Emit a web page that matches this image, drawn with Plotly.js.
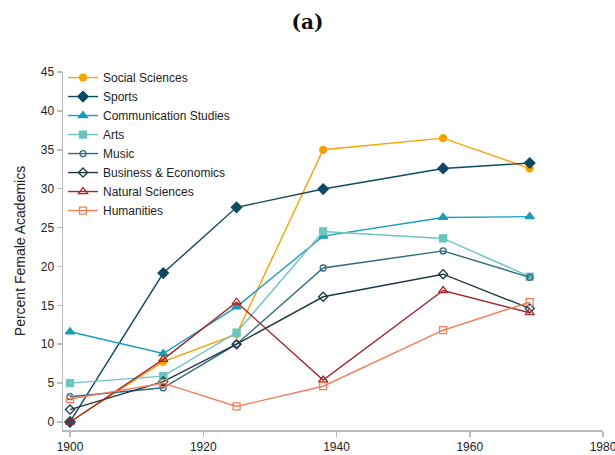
<!DOCTYPE html>
<html>
<head>
<meta charset="utf-8">
<script src="https://cdn.plot.ly/plotly-3.0.1.min.js"></script>
<style>html,body{margin:0;padding:0;background:#fff;}#chart{width:615px;height:455px;}</style>
</head>
<body>
<div id="chart"></div>
<script>
const years = [1900, 1914, 1925, 1938, 1956, 1969];
const seriesNames = ["Social Sciences", "Sports", "Communication Studies", "Arts", "Music", "Business & Economics", "Natural Sciences", "Humanities"];
const socialSciences = [0, 7.75, 11.3, 35.0, 36.5, 32.6];
const sports = [0, 19.15, 27.6, 29.95, 32.6, 33.3];
const communicationStudies = [11.6, 8.8, 14.8, 23.9, 26.3, 26.4];
const arts = [5.0, 5.9, 11.5, 24.5, 23.6, 18.7];
const music = [3.25, 4.4, 10.0, 19.8, 22.0, 18.6];
const businessEconomics = [1.6, 5.2, 10.0, 16.1, 19.0, 14.6];
const naturalSciences = [0, 8.05, 15.4, 5.4, 16.9, 14.05];
const humanities = [2.95, 5.0, 2.0, 4.6, 11.8, 15.4];
const yTicks = [0, 5, 10, 15, 20, 25, 30, 35, 40, 45];
const xTicks = [1900, 1920, 1940, 1960, 1980];

const values = [socialSciences, sports, communicationStudies, arts, music, businessEconomics, naturalSciences, humanities];
const colors = ["#f5a300", "#0c4a62", "#1b9cb8", "#6cc4bf", "#2e6a80", "#1d3a42", "#a3282e", "#f47d5b"];
const symbols = ["circle", "diamond", "triangle-up", "square", "circle-open", "diamond-open", "triangle-up-open", "square-open"];
const sizes = [7, 8, 8, 7, 6, 7, 8, 7];

const traces = seriesNames.map((name, i) => ({
  type: "scatter",
  mode: "lines+markers",
  name: name,
  x: years,
  y: values[i],
  line: {color: colors[i], width: 1.4},
  marker: {symbol: symbols[i], size: sizes[i], color: colors[i], line: {color: colors[i], width: 1.3}}
}));

const layout = {
  width: 615, height: 455,
  paper_bgcolor: "#fff", plot_bgcolor: "#fff",
  margin: {l: 63, r: 12, t: 72, b: 25},
  font: {family: "Liberation Sans", size: 12, color: "#222"},
  title: {text: "<b>(a)</b>", font: {family: "DejaVu Serif", size: 20, color: "#111"}, x: 0.5, xanchor: "center", y: 0.952, yanchor: "middle", yref: "container"},
  showlegend: true,
  legend: {x: 0.0, y: 1.025, xanchor: "left", yanchor: "top", bgcolor: "rgba(0,0,0,0)", font: {family: "Liberation Sans", size: 12, color: "#222"}, itemwidth: 30, tracegroupgap: 0},
  xaxis: {range: [1898.95, 1980], tickvals: xTicks, ticks: "outside", ticklen: 5, tickcolor: "#bbb", tickwidth: 1.5, showgrid: false, zeroline: false, showline: true, linecolor: "#bbb", linewidth: 1.5, ticklabeloverflow: "allow", tickfont: {family: "Liberation Sans", size: 12, color: "#222"}},
  yaxis: {range: [-1.03, 45], tickvals: yTicks, ticks: "outside", ticklen: 5, tickcolor: "#bbb", tickwidth: 1.5, showgrid: false, zeroline: false, showline: true, linecolor: "#bbb", linewidth: 1.5, tickfont: {family: "Liberation Sans", size: 12, color: "#222"},
    title: {text: "Percent Female Academics", font: {family: "Liberation Sans", size: 14, color: "#222"}, standoff: 12}}
};

Plotly.newPlot("chart", traces, layout, {displayModeBar: false, staticPlot: true});
</script>
</body>
</html>
